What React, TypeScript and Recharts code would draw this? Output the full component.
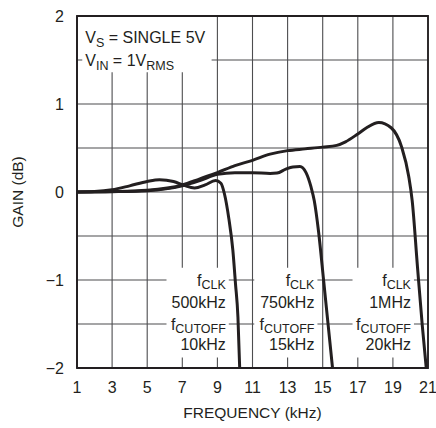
import React from "react";
import { LineChart, Line, XAxis, YAxis, CartesianGrid, ReferenceArea } from "recharts";

const INK = "#231f20";
const FONT = '"Liberation Sans", Arial, Helvetica, sans-serif';

const xTicks = [1, 3, 5, 7, 9, 11, 13, 15, 17, 19, 21];
const yTicks = [-2, -1.5, -1, -0.5, 0, 0.5, 1, 1.5, 2];

// fCLK = 500kHz, fCUTOFF = 10kHz
const freq500k = [1, 2, 3, 4, 5, 5.7, 6.5, 7.1, 7.7, 8.3, 8.9, 9.2, 9.4, 9.65, 9.88, 10.03, 10.17, 10.27];
const gain500k = [0, 0.005, 0.025, 0.07, 0.12, 0.14, 0.12, 0.075, 0.045, 0.08, 0.13, 0.1, -0.02, -0.3, -0.66, -1.04, -1.42, -2];

// fCLK = 750kHz, fCUTOFF = 15kHz
const freq750k = [1, 3, 5, 7, 8, 9, 10, 11, 12, 12.4, 12.9, 13.3, 13.7, 14.05, 14.33, 14.52, 14.77, 15.05, 15.32, 15.56];
const gain750k = [0, 0.004, 0.015, 0.07, 0.13, 0.2, 0.22, 0.22, 0.21, 0.215, 0.26, 0.285, 0.29, 0.22, 0.06, -0.1, -0.46, -1.0, -1.53, -2];

// fCLK = 1MHz, fCUTOFF = 20kHz
const freq1M = [1, 3, 5, 7, 8, 9, 10, 11, 12, 13, 14, 15, 15.8, 16.3, 17, 17.5, 18.2, 18.9, 19.5, 19.9, 20.1, 20.4, 20.68, 20.9];
const gain1M = [0, 0.005, 0.02, 0.08, 0.15, 0.22, 0.3, 0.36, 0.43, 0.47, 0.49, 0.51, 0.53, 0.57, 0.66, 0.73, 0.79, 0.73, 0.51, 0.18, -0.1, -0.85, -1.53, -2];

const clkLabels = ["500kHz", "750kHz", "1MHz"];
const cutoffLabels = ["10kHz", "15kHz", "20kHz"];

// white boxes behind the curve labels, in data units
const labelBoxes = [
  { x1: 6.1, x2: 9.65 },
  { x1: 11.1, x2: 14.7 },
  { x1: 16.7, x2: 20.2 },
];

const zip = (f: number[], g: number[]) => f.map((freq, i) => ({ freq, gain: g[i] }));
const series = [zip(freq500k, gain500k), zip(freq750k, gain750k), zip(freq1M, gain1M)];

const XTick = ({ x, y, payload }: any) => (
  <text x={x} y={y + 17} textAnchor="middle" fontSize={16} fontFamily={FONT} fill={INK}>
    {payload.value}
  </text>
);

const YTick = ({ x, y, payload }: any) => {
  const v = payload.value;
  if (!Number.isInteger(v)) return <g />;
  return (
    <text x={x - 5} y={y + 6} textAnchor="end" fontSize={16} fontFamily={FONT} fill={INK}>
      {v < 0 ? `\u2212${Math.abs(v)}` : v}
    </text>
  );
};

const XTitle = ({ viewBox }: any) => (
  <text x={viewBox.x + viewBox.width / 2} y={viewBox.y + 50} textAnchor="middle" fontSize={15.5} fontFamily={FONT} fill={INK}>
    FREQUENCY (kHz)
  </text>
);

const YTitle = ({ viewBox }: any) => {
  const cx = 23;
  const cy = viewBox.y + viewBox.height / 2;
  return (
    <text x={cx} y={cy} transform={`rotate(-90 ${cx} ${cy})`} textAnchor="middle" fontSize={15.5} fontFamily={FONT} fill={INK}>
      GAIN (dB)
    </text>
  );
};

const Sub = ({ children }: any) => (
  <tspan fontSize={12.5} dy={3.5}>
    {children}
  </tspan>
);
const Up = ({ children }: any) => <tspan dy={-3.5}>{children}</tspan>;

const BlockText = ({ viewBox, clk, cutoff }: any) => {
  const rx = viewBox.x + viewBox.width - 3;
  const t = viewBox.y;
  const common = { textAnchor: "end" as const, fontSize: 16, fontFamily: FONT, fill: INK };
  return (
    <g>
      <text x={rx} y={t + 18} {...common}>
        f<Sub>CLK</Sub>
      </text>
      <text x={rx} y={t + 40} {...common}>
        {clk}
      </text>
      <text x={rx} y={t + 62} {...common}>
        f<Sub>CUTOFF</Sub>
      </text>
      <text x={rx} y={t + 82} {...common}>
        {cutoff}
      </text>
    </g>
  );
};

const InsetText = ({ viewBox }: any) => {
  const lx = viewBox.x + 3;
  const common = { fontSize: 16, fontFamily: FONT, fill: INK };
  return (
    <g>
      <text x={lx} y={43} {...common}>
        V<Sub>S</Sub>
        <Up> = SINGLE 5V</Up>
      </text>
      <text x={lx} y={66} {...common}>
        V<Sub>IN</Sub>
        <Up> = 1V</Up>
        <Sub>RMS</Sub>
      </text>
    </g>
  );
};

export default function App() {
  return (
    <div style={{ position: "absolute", left: 0, top: 0, width: 436, height: 428, background: "#fff" }}>
      <LineChart width={436} height={428} margin={{ top: 16, right: 8, bottom: 0, left: 0 }}>
        <CartesianGrid stroke="#4d4d4f" strokeWidth={1.1} />
        <XAxis
          type="number"
          dataKey="freq"
          domain={[1, 21]}
          ticks={xTicks}
          interval={0}
          height={60}
          tickLine={false}
          axisLine={{ stroke: INK, strokeWidth: 1.5 }}
          tick={<XTick />}
          label={<XTitle />}
          allowDataOverflow
        />
        <YAxis
          type="number"
          domain={[-2, 2]}
          ticks={yTicks}
          interval={0}
          width={77}
          tickLine={false}
          axisLine={{ stroke: INK, strokeWidth: 1.5 }}
          tick={<YTick />}
          label={<YTitle />}
          allowDataOverflow
        />
        <ReferenceArea x1={1.3} x2={8.67} y1={1.36} y2={2} fill="#fff" fillOpacity={1} stroke="none" label={<InsetText />} />
        {labelBoxes.map((b, i) => (
          <ReferenceArea
            key={i}
            x1={b.x1}
            x2={b.x2}
            y1={-1.88}
            y2={-0.86}
            fill="#fff"
            fillOpacity={1}
            stroke="none"
            label={<BlockText clk={clkLabels[i]} cutoff={cutoffLabels[i]} />}
          />
        ))}
        <ReferenceArea x1={1} x2={21} y1={-2} y2={2} fill="none" stroke={INK} strokeWidth={1.8} />
        {series.map((d, i) => (
          <Line
            key={i}
            data={d}
            dataKey="gain"
            type="monotone"
            stroke={INK}
            strokeWidth={3}
            dot={false}
            activeDot={false}
            isAnimationActive={false}
          />
        ))}
      </LineChart>
    </div>
  );
}
